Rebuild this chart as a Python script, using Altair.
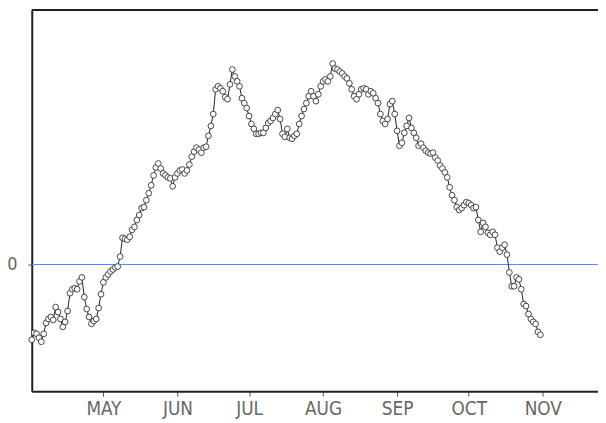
import altair as alt
import pandas as pd

# daily series, 1 Apr - 31 Oct
start_date = "2023-04-01"
n_days = 214
values = [
    -7.6, -6.9, -7.0, -7.4, -7.8, -7.0, -5.9, -5.5, -5.3, -5.6,
    -4.3, -4.8, -5.5, -6.3, -5.8, -4.7, -2.9, -2.5, -2.4, -2.5,
    -1.7, -1.3, -3.3, -4.5, -5.3, -6.0, -5.7, -5.5, -4.4, -3.0,
    -1.8, -1.3, -1.0, -0.7, -0.5, -0.3, -0.2, 0.8, 2.7, 2.6,
    2.5, 2.8, 3.5, 3.8, 4.5, 5.0, 5.7, 5.8, 6.5, 7.2,
    8.0, 9.0, 9.8, 10.2, 9.7, 9.2, 9.0, 8.8, 8.7, 7.9,
    8.8, 9.2, 9.5, 9.6, 9.2, 9.5, 10.1, 10.9, 11.4, 11.8,
    11.6, 11.3, 11.8, 11.9, 13.0, 14.0, 15.2, 17.7, 18.0, 17.8,
    17.5, 16.9, 16.7, 18.2, 19.7, 19.0, 18.5, 18.0, 16.8, 16.3,
    15.8, 15.0, 14.2, 13.7, 13.2, 13.2, 13.3, 13.3, 13.8, 14.3,
    14.5, 14.8, 15.2, 15.6, 14.7, 13.2, 12.9, 13.7, 12.8, 12.7,
    13.0, 13.2, 14.2, 15.0, 15.7, 16.3, 17.0, 17.5, 17.0, 16.5,
    17.2, 18.0, 18.5, 18.7, 18.5, 19.0, 20.3, 19.8, 19.7, 19.5,
    19.3, 19.0, 18.8, 18.3, 17.7, 17.0, 16.7, 17.2, 17.7, 17.8,
    17.7, 17.2, 17.5, 17.3, 16.8, 16.3, 15.2, 14.5, 14.2, 14.7,
    16.2, 16.5, 15.2, 13.5, 12.0, 12.3, 13.3, 14.0, 14.8, 13.8,
    13.3, 12.8, 12.0, 12.2, 11.8, 11.5, 11.3, 11.2, 11.3, 10.8,
    10.5, 10.0, 9.7, 9.3, 8.8, 7.8, 7.0, 6.5, 5.8, 5.5,
    5.7, 6.0, 6.3, 6.2, 6.0, 5.7, 5.8, 4.5, 3.3, 4.2,
    3.8, 3.2, 3.0, 3.3, 3.0, 1.7, 1.3, 1.7, 2.0, 1.0,
    -0.8, -2.2, -2.2, -1.3, -1.5, -2.5, -4.0, -4.2, -5.0, -5.5,
    -5.8, -6.0, -6.8, -7.1,
]
month_ticks = ["2023-05-01", "2023-06-01", "2023-07-01", "2023-08-01",
               "2023-09-01", "2023-10-01", "2023-11-01"]
y_ticks = [0]

dates = pd.date_range(start_date, periods=n_days, freq="D").strftime("%Y-%m-%d")
df = pd.DataFrame({"date": dates, "value": values})

W, H = 572, 385
FONT = "Liberation Sans Narrow, DejaVu Sans Condensed, Liberation Sans"

def dt(s, hours=0):
    y, m, d = (int(p) for p in s.split("-"))
    return alt.DateTime(year=y, month=m, date=d, hours=hours, utc=True)

x_scale = alt.Scale(type="utc", domain=[dt("2023-04-01"), dt("2023-11-24", 3)], nice=False)
y_scale = alt.Scale(domain=[-12.8, 25.7], nice=False, zero=False)

x_axis = alt.Axis(values=[dt(s) for s in month_ticks],
                  labelExpr="upper(utcFormat(datum.value, '%b'))",
                  grid=False, tickSize=5, labelPadding=4,
                  labelFontSize=19, labelColor="#666", labelFont=FONT,
                  domainColor="#222", domainWidth=2, tickColor="#555")
y_axis = alt.Axis(values=y_ticks, grid=False, tickSize=4, labelPadding=11,
                  labelFontSize=18, labelColor="#666", labelFont=FONT,
                  domainColor="#222", domainWidth=2, tickColor="#555")

zero_df = pd.DataFrame({"value": y_ticks})
zero_line = alt.Chart(zero_df).mark_rule(color="#5b8bd0", strokeWidth=1).encode(
    y=alt.Y("value:Q", scale=y_scale, axis=y_axis, title=None))

base = alt.Chart(df)
line = base.mark_line(color="#222", strokeWidth=1).encode(
    x=alt.X("date:T", scale=x_scale, axis=x_axis, title=None),
    y=alt.Y("value:Q", scale=y_scale, axis=y_axis, title=None))
pts = base.mark_point(shape="circle", filled=False, fill="white", fillOpacity=1,
                      stroke="#333", strokeWidth=0.9, size=34, opacity=1).encode(
    x=alt.X("date:T", scale=x_scale, axis=x_axis, title=None),
    y=alt.Y("value:Q", scale=y_scale, axis=y_axis, title=None))

top_border = alt.Chart(pd.DataFrame({"a": [0]})).mark_rule(
    color="#222", strokeWidth=2).encode(
    x=alt.value(0), x2=alt.value(W), y=alt.value(0))

chart = alt.layer(zero_line, line, pts, top_border).properties(
    width=W, height=H,
    padding={"left": 24, "top": 0, "right": 0, "bottom": 30},
    autosize=alt.AutoSizeParams(type="none"),
).configure_view(strokeWidth=0).configure(background="white")

chart.save("out.html", embed_options={"renderer": "svg", "actions": False})
